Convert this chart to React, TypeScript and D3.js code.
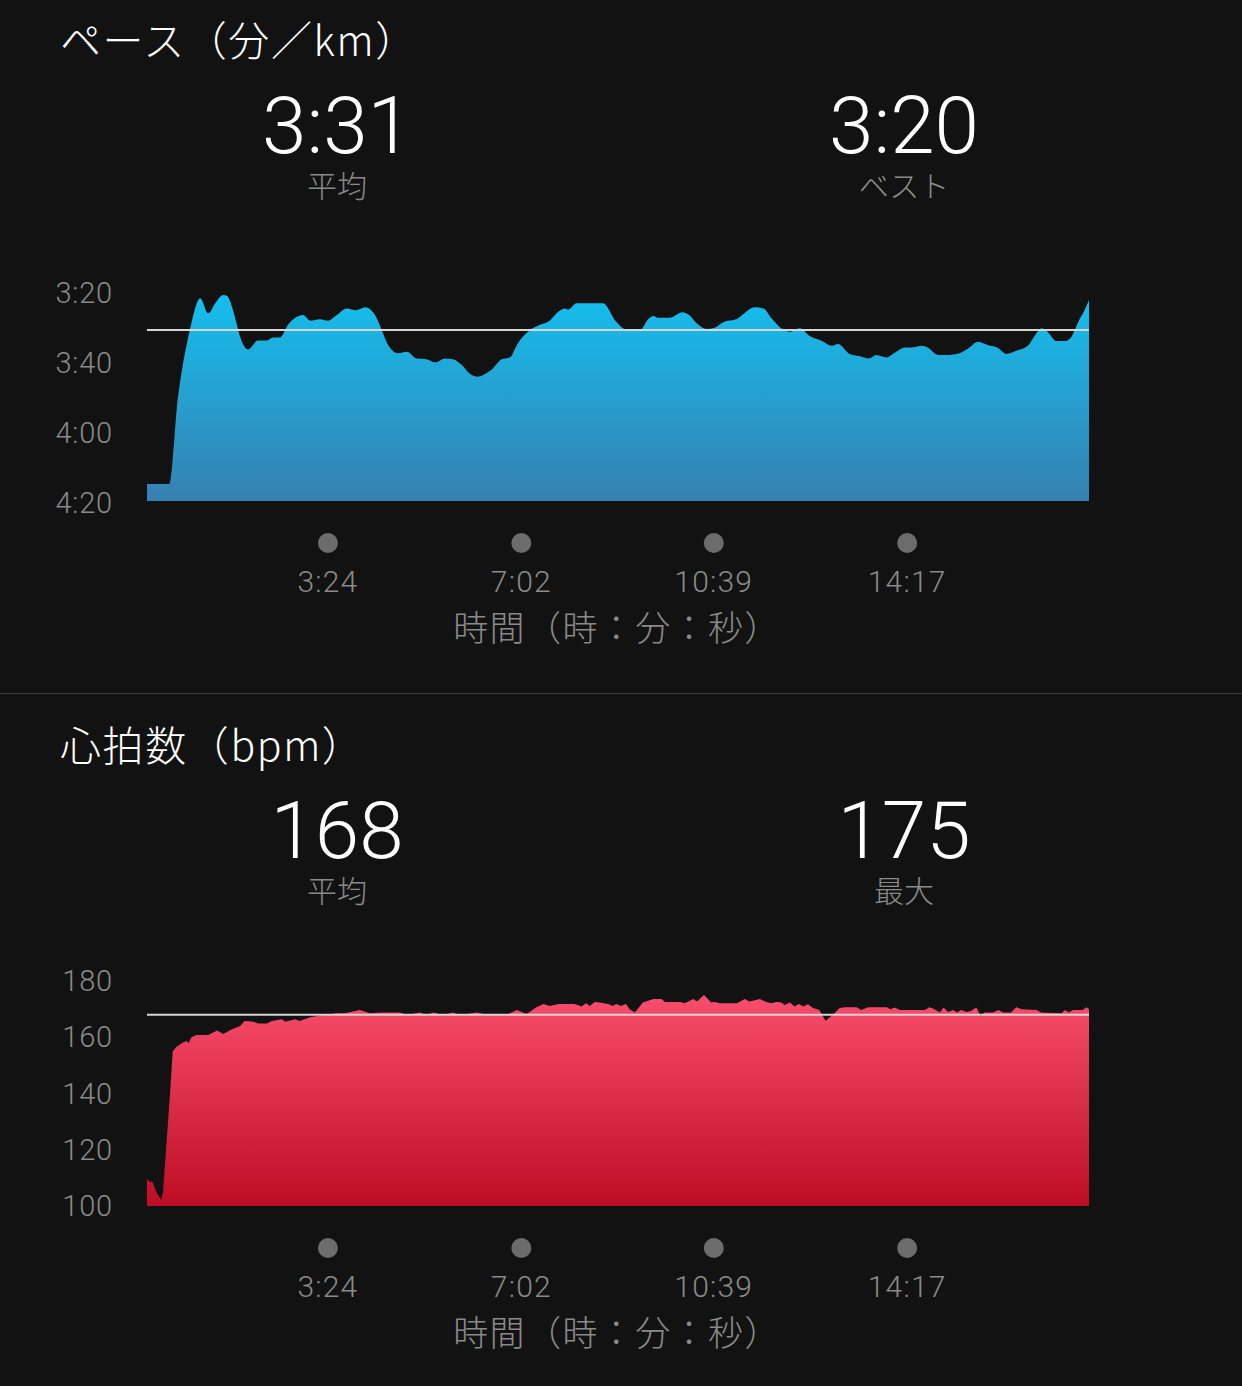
import React from "react";
import * as d3 from "d3";

// ---------- data ----------
const paceTime = [0,25,35,40,45,50,60,69,77,86,90,97,101,105,114,125,135,142,150,159,176,184,195,204,214,225,236,246,259,266,272,283,293,304,315,325,336,345,355,364,372,379,388,400,409,418,432,443,454,464,471,475,484,503,514,529,542,556,565,571,576,589,604,610,620,631,640,651,665,672,685,695,704,715,725,736,747,760,772,779,792,803,814,822,834,843,854,865,873,880,892,901,916,926,937,950,958,969,980,993,999,1009,1016,1025,1035,1041,1051,1057,1062];
const paceValue = [254.6,254.6,229.6,221.1,214.4,208.7,201.5,205.8,202.9,200.6,200.8,204.9,208.7,212.5,216.1,213.6,213.6,212.7,212.7,209.1,206.3,207.9,207.5,207.9,206.3,204.4,204.9,204.1,207.2,211.5,214.9,217.2,216.8,218.7,218.9,219.8,218.7,218.9,220.6,223.1,223.9,223.4,222,218.9,218.4,214.4,210.6,209.1,207.9,205.3,204.4,204.7,202.9,202.9,202.9,208.2,210.6,210.6,207.5,206.6,207.1,207.1,205.5,206.1,208.7,210.3,209.9,208.2,207.4,206.1,204.1,204.4,207.2,210.1,211.1,210.1,212.3,213.6,215.1,214.6,217.4,218,218.7,217.7,218.4,217.1,215.6,215.5,215.1,215.6,217.7,217.7,217.2,215.8,213.9,215.1,215.5,217.4,216.5,215.1,212.9,210.1,211.3,213.7,213.7,212.9,207.7,204.9,202];

const hrTime = [0,3,6,11,16,18,22,26,29,33,41,45,47,50,56,69,79,86,94,105,110,120,125,135,141,152,156,167,172,184,195,214,223,240,251,263,285,293,308,315,323,334,345,353,372,379,405,417,428,439,447,454,464,482,490,495,499,505,510,520,525,529,534,540,544,550,559,571,580,584,601,606,616,620,628,636,640,646,665,674,679,683,691,698,704,710,715,719,725,730,735,740,745,751,758,765,773,781,787,800,805,813,834,838,843,849,877,882,886,894,898,903,909,913,918,924,929,935,940,944,954,960,965,974,980,986,1003,1008,1031,1035,1039,1044,1055,1059,1062];
const hrValue = [109.6,108.6,108.6,104.7,102.1,104.7,122.3,140.1,154.9,156.5,158.2,158.7,157.9,160,160.8,160.8,162.4,161.2,162.6,164,165.8,165.5,164.9,164.9,165.8,166.4,165.5,166.4,165.8,167.1,167.7,168.5,168.5,169.7,168.5,168.8,168.8,167.9,168.8,167.9,168.8,167.9,168.8,167.9,168.8,168.3,167.9,169.7,168.3,170.7,171.8,171.1,171.8,171.8,170.9,172.1,171.1,172.5,172.4,171.8,171.1,171.8,171.1,171.8,170,168.8,172.4,173.6,173.6,172.5,172.5,172.1,173.6,172.7,175,172.4,172.5,172.1,172.1,173.6,172.7,173,173.6,172.5,172.1,172.5,172.4,171.5,172.4,170.9,171.8,170.9,171.7,170.4,169.7,165.9,167.9,170.4,170.7,170.7,169.7,170.7,170.7,170,170.6,169.7,169.7,170.7,170.2,168.8,170.6,169,169.7,168.8,169.7,169,169.3,170.6,167.4,168.8,168.8,169.7,168.8,168.8,170.7,170,169.7,168.8,168.5,169.7,168.8,169.7,169.7,170.7,170];

const timeTicks = [204, 422, 639, 857];
const timeTickLabels = ["3:24", "7:02", "10:39", "14:17"];
const paceTicks = [200, 220, 240, 260];
const paceTickLabels = ["3:20", "3:40", "4:00", "4:20"];
const hrTicks = [100, 120, 140, 160, 180];
const paceAvg = 210.6;
const hrAvg = 168;

const paceStats = [
  { value: "3:31", label: "平均" },
  { value: "3:20", label: "ベスト" },
];
const hrStats = [
  { value: "168", label: "平均" },
  { value: "175", label: "最大" },
];

// ---------- layout ----------
const W = 1242;
const H = 1386;
const X0 = 147;
const X1 = 1089;
const BG = "#121212";
const JP = "'Noto Sans CJK JP', 'Noto Sans', sans-serif";
const NUM = "Roboto, 'Noto Sans', sans-serif";
const GRAY = "#8a8a8a";

const x = d3.scaleLinear().domain([0, 1062]).range([X0, X1]);

function Panel({ top, title, stats, yScale, yTicks, yLabels, times, values, avg, bottom, gradId, c1, c2, curve }) {
  const area = d3
    .area<number>()
    .x((_, i) => x(times[i]))
    .y0(bottom)
    .y1((d) => yScale(d))
    .curve(curve);
  const [r0, r1] = yScale.range();
  const gTop = Math.min(r0, r1);
  return (
    <g>
      <defs>
        <linearGradient id={gradId} gradientUnits="userSpaceOnUse" x1={0} x2={0} y1={gTop} y2={bottom}>
          <stop offset="0%" stopColor={c1} />
          <stop offset="100%" stopColor={c2} />
        </linearGradient>
      </defs>
      <text x={60} y={top + 56} fill="#fff" fontFamily={JP} fontWeight={300} fontSize={41} letterSpacing={1.6}>{title}</text>
      {stats.map((s, i) => {
        const cx = i === 0 ? 337 : 904;
        return (
          <g key={i}>
            <text x={cx} y={top + 153} fill="#fff" fontFamily={NUM} fontWeight={300} fontSize={80} textAnchor="middle">{s.value}</text>
            <text x={cx} y={top + 197} fill={GRAY} fontFamily={JP} fontWeight={300} fontSize={30} textAnchor="middle">{s.label}</text>
          </g>
        );
      })}
      {yTicks.map((t, i) => (
        <text key={i} x={113} y={yScale(t) + 10} fill={GRAY} fontFamily={NUM} fontWeight={300} fontSize={29} letterSpacing={0.8} textAnchor="end">{yLabels[i]}</text>
      ))}
      <path d={area(values) || ""} fill={`url(#${gradId})`} />
      <line x1={X0} x2={X1} y1={yScale(avg)} y2={yScale(avg)} stroke="#d6d6d6" strokeWidth={2} />
      {timeTicks.map((t, i) => (
        <g key={i}>
          <circle cx={x(t)} cy={bottom + 42} r={10} fill="#6c6c6c" />
          <text x={x(t)} y={bottom + 91} fill={GRAY} fontFamily={NUM} fontWeight={300} fontSize={30} letterSpacing={1.2} textAnchor="middle">{timeTickLabels[i]}</text>
        </g>
      ))}
      <text x={617} y={bottom + 140} fill={GRAY} fontFamily={JP} fontWeight={300} fontSize={35} letterSpacing={1.4} textAnchor="middle">時間（時：分：秒）</text>
    </g>
  );
}

export default function App() {
  const yPace = d3.scaleLinear().domain([200, 260]).range([293, 503]);
  const yHr = d3.scaleLinear().domain([100, 180]).range([1206, 981]);
  return (
    <svg width={W} height={H} style={{ position: "absolute", left: 0, top: 0, background: BG }}>
      <rect width={W} height={H} fill={BG} />
      <Panel top={0} title="ペース（分／km）" stats={paceStats} yScale={yPace} yTicks={paceTicks} yLabels={paceTickLabels}
        times={paceTime} values={paceValue} avg={paceAvg} bottom={501} gradId="gp" c1="#14bfee" c2="#3680b1" curve={d3.curveMonotoneX} />
      <line x1={0} x2={W} y1={693.5} y2={693.5} stroke="#3c3c3c" strokeWidth={1} />
      <Panel top={705} title="心拍数（bpm）" stats={hrStats} yScale={yHr} yTicks={hrTicks} yLabels={hrTicks.map(String)}
        times={hrTime} values={hrValue} avg={hrAvg} bottom={1206} gradId="gh" c1="#fc5272" c2="#bd0d24" curve={d3.curveLinear} />
    </svg>
  );
}
